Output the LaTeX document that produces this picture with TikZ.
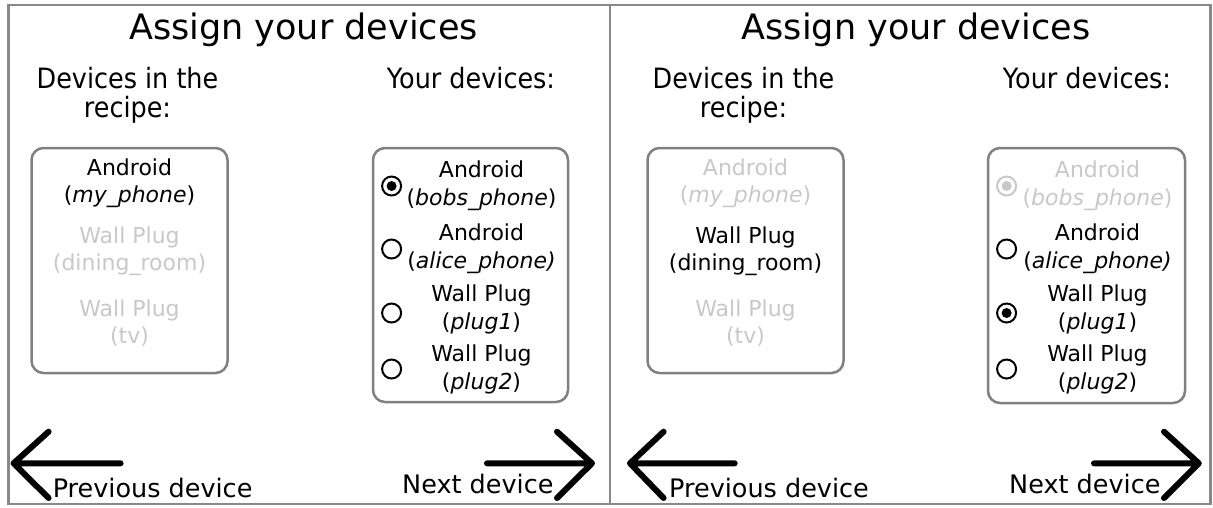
\documentclass[tikz,border=0pt]{standalone}
\usepackage{fontspec}
\setmainfont{DejaVu Sans}
\newfontfamily\headfont{DejaVu Sans}[FakeStretch=0.91]
\definecolor{framegray}{RGB}{136,136,136}
\definecolor{boxgray}{RGB}{128,128,128}
\definecolor{dimtext}{RGB}{200,200,200}
\begin{document}
\begin{tikzpicture}[x=1pt,y=-1pt,
  titletext/.style={font=\fontsize{35}{40}\selectfont, anchor=base, inner sep=0pt},
  headtext/.style={font=\headfont\fontsize{28}{30}\selectfont, anchor=base, inner sep=0pt},
  itemtext/.style={font=\fontsize{22}{26}\selectfont, anchor=base, inner sep=0pt},
  navtext/.style={font=\fontsize{25.5}{30}\selectfont, anchor=base west, inner sep=0pt},
  dim/.style={text=dimtext},
  listbox/.style={draw=boxgray, line width=2.5pt, rounded corners=12pt, inner sep=0pt},
  radio/.style={circle, draw=black, line width=2pt, minimum size=19pt, inner sep=0pt},
  dimradio/.style={radio, draw=dimtext},
  navarrow/.style={line width=6pt, line cap=round, line join=round},
  framestyle/.style={draw=framegray, line width=2.5pt}
]
\useasboundingbox (0,0) rectangle (1213,507);
% outer frame and divider between the two screens
\draw[framestyle] (8.5,5) rectangle (1210.5,504);
\draw[framestyle] (610,5) -- (610,504);

% ---------------- screen 1 ----------------
\node[titletext] (t1) at (303.5,39.5) {Assign your devices};
\node[headtext] (h1a) at (127.5,88) {Devices in the};
\node[headtext] (h1b) at (127.5,117) {recipe:};
\node[headtext] (h1c) at (471,88) {Your devices:};

\node[listbox, minimum width=196pt, minimum height=225pt] (lb1) at (129.5,260.5) {};
\node[itemtext] (l1a) at (129.5,175) {Android};
\node[itemtext] (l1b) at (129.5,202) {(\textit{my\_phone})};
\node[itemtext, dim] (l1c) at (129.5,243) {Wall Plug};
\node[itemtext, dim] (l1d) at (129.5,270) {(dining\_room)};
\node[itemtext, dim] (l1e) at (129.5,316) {Wall Plug};
\node[itemtext, dim] (l1f) at (129.5,343) {(tv)};

\node[listbox, minimum width=195pt, minimum height=254pt] (rb1) at (470.5,275) {};
\node[itemtext] (r1a) at (481.5,177.7) {Android};
\node[itemtext] (r1b) at (481.5,205) {(\textit{bobs\_phone})};
\node[itemtext] (r1c) at (481.5,240.7) {Android};
\node[itemtext] (r1d) at (481.5,268) {(\textit{alice\_phone)}};
\node[itemtext] (r1e) at (481.5,301.7) {Wall Plug};
\node[itemtext] (r1f) at (481.5,329) {(\textit{plug1})};
\node[itemtext] (r1g) at (481.5,361.7) {Wall Plug};
\node[itemtext] (r1h) at (481.5,389) {(\textit{plug2})};
\node[radio] (o1a) at (391.6,186) {};
\fill (o1a.center) circle (5);
\node[radio] (o1b) at (391.6,249) {};
\node[radio] (o1c) at (391.6,313) {};
\node[radio] (o1d) at (391.6,369) {};

\draw[navarrow] (48.6,431.7) -- (13.6,463.3) -- (48.6,498) (13.6,463.3) -- (120.6,463.3);
\draw[navarrow] (557,431.7) -- (592,463.3) -- (557,498) (592,463.3) -- (487,463.3);
\node[navtext] (p1) at (52.6,497) {Previous device};
\node[navtext] (n1) at (402,493.5) {Next device};

% ---------------- screen 2 ----------------
\node[titletext] (t2) at (916,39.5) {Assign your devices};
\node[headtext] (h2a) at (743.5,88) {Devices in the};
\node[headtext] (h2b) at (743.5,117) {recipe:};
\node[headtext] (h2c) at (1087,88) {Your devices:};

\node[listbox, minimum width=196pt, minimum height=225pt] (lb2) at (745.5,260.5) {};
\node[itemtext, dim] (l2a) at (745.5,175) {Android};
\node[itemtext, dim] (l2b) at (745.5,202) {(\textit{my\_phone})};
\node[itemtext] (l2c) at (745.5,243) {Wall Plug};
\node[itemtext] (l2d) at (745.5,270) {(dining\_room)};
\node[itemtext, dim] (l2e) at (745.5,316) {Wall Plug};
\node[itemtext, dim] (l2f) at (745.5,343) {(tv)};

\node[listbox, minimum width=197pt, minimum height=255pt] (rb2) at (1086.5,275.5) {};
\node[itemtext, dim] (r2a) at (1097.5,177.7) {Android};
\node[itemtext, dim] (r2b) at (1097.5,205) {(\textit{bobs\_phone})};
\node[itemtext] (r2c) at (1097.5,240.7) {Android};
\node[itemtext] (r2d) at (1097.5,268) {(\textit{alice\_phone)}};
\node[itemtext] (r2e) at (1097.5,301.7) {Wall Plug};
\node[itemtext] (r2f) at (1097.5,329) {(\textit{plug1})};
\node[itemtext] (r2g) at (1097.5,361.7) {Wall Plug};
\node[itemtext] (r2h) at (1097.5,389) {(\textit{plug2})};
\node[dimradio] (o2a) at (1006.6,186) {};
\fill[dimtext] (o2a.center) circle (5);
\node[radio] (o2b) at (1006.6,249) {};
\node[radio] (o2c) at (1006.6,313) {};
\fill (o2c.center) circle (5);
\node[radio] (o2d) at (1006.6,369) {};

\draw[navarrow] (663.6,431.7) -- (630,463.3) -- (663.6,498) (630,463.3) -- (734.7,463.3);
\draw[navarrow] (1164,431.7) -- (1198.8,463.3) -- (1164,498) (1198.8,463.3) -- (1094,463.3);
\node[navtext] (p2) at (669,497) {Previous device};
\node[navtext] (n2) at (1009,493.5) {Next device};
\end{tikzpicture}
\end{document}
